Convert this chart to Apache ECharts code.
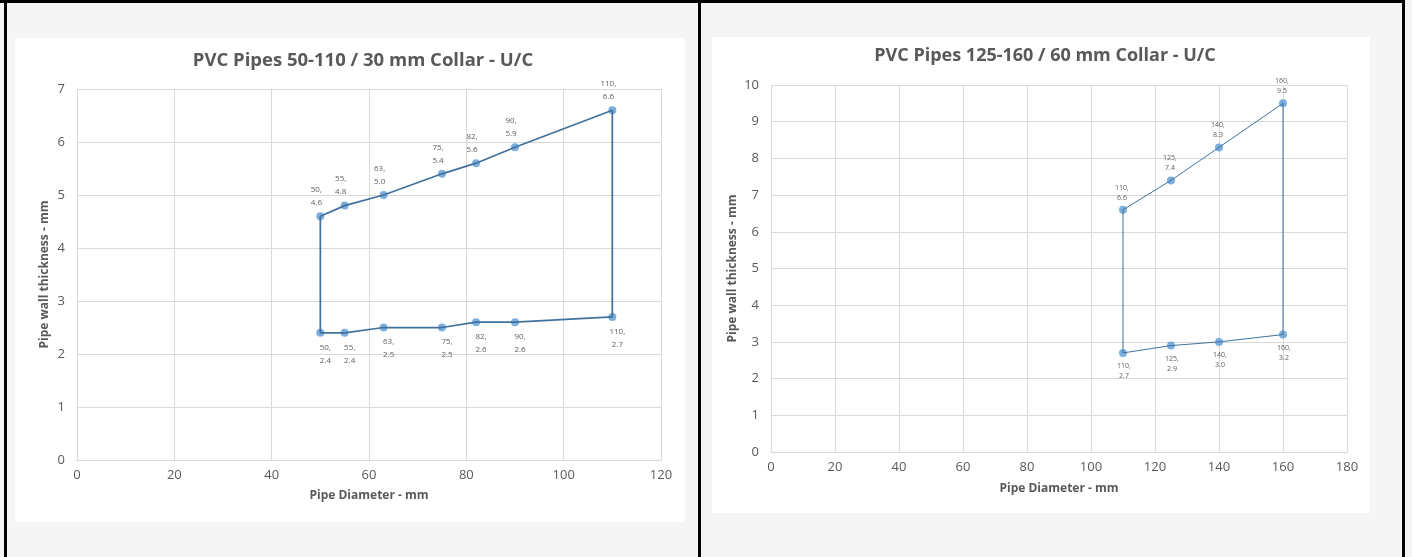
<!DOCTYPE html>
<html>
<head>
<meta charset="utf-8">
<title>PVC Pipes collar charts</title>
<script src="https://cdn.jsdelivr.net/npm/echarts@6/dist/echarts.min.js"></script>
<style>
  html, body { margin: 0; padding: 0; background: #f5f5f5; }
  #wrap { position: relative; width: 1412px; height: 557px; overflow: hidden; }
  .box { position: absolute; background: #fff; }
  .bar { position: absolute; background: #000; }
  #chart { position: absolute; left: 0; top: 0; width: 1412px; height: 557px; }
</style>
</head>
<body>
<div id="wrap">
  <div class="box" style="left:15px;top:38px;width:670px;height:484px"></div>
  <div class="box" style="left:712px;top:37px;width:658px;height:476px"></div>
  <div class="bar" style="left:0;top:0;width:1405px;height:3px"></div>
  <div class="bar" style="left:4px;top:0;width:3px;height:557px"></div>
  <div class="bar" style="left:698px;top:0;width:3px;height:557px"></div>
  <div class="bar" style="left:1402px;top:0;width:3px;height:557px"></div>
  <div id="chart"></div>
</div>
<script>
// chart 1: 50-110 / 30 mm collar
var dia1 = [50, 55, 63, 75, 82, 90, 110]
var upper1 = [4.6, 4.8, 5.0, 5.4, 5.6, 5.9, 6.6]
var lower1 = [2.4, 2.4, 2.5, 2.5, 2.6, 2.6, 2.7]
var xTicks1 = [0, 20, 40, 60, 80, 100, 120]
var yTicks1 = [0, 1, 2, 3, 4, 5, 6, 7]

// chart 2: 125-160 / 60 mm collar
var dia2 = [110, 125, 140, 160]
var upper2 = [6.6, 7.4, 8.3, 9.5]
var lower2 = [2.7, 2.9, 3.0, 3.2]
var xTicks2 = [0, 20, 40, 60, 80, 100, 120, 140, 160, 180]
var yTicks2 = [0, 1, 2, 3, 4, 5, 6, 7, 8, 9, 10]

var titles = ['PVC Pipes 50-110 / 30 mm Collar - U/C', 'PVC Pipes 125-160 / 60 mm Collar - U/C']
var xName = 'Pipe Diameter - mm'
var yName = 'Pipe wall thickness - mm'

var FONT = '"Open Sans", sans-serif'
var lineColor = '#41719C'
var dotColor = '#5B9BD5'

function pairs(xs, ys) {
  return xs.map(function (x, i) { return [x, ys[i]] })
}

// closed outline: top edge, then bottom edge back, then up again
function outline(xs, up, lo) {
  var top = pairs(xs, up)
  var bottom = pairs(xs, lo).reverse()
  return top.concat(bottom, [top[0]])
}

function fmt(p) {
  return p.value[0] + ',\n' + p.value[1].toFixed(1)
}

function xAxis(idx, ticks, gap) {
  return {
    gridIndex: idx, type: 'value',
    min: ticks[0], max: ticks[ticks.length - 1], interval: ticks[1] - ticks[0],
    name: xName, nameLocation: 'middle', nameGap: gap,
    nameTextStyle: { color: '#595959', fontSize: 12, fontWeight: 'bold', fontFamily: FONT },
    axisLine: { show: true, lineStyle: { color: '#d9d9d9' } },
    axisTick: { show: false },
    axisLabel: { color: '#595959', fontSize: 13, fontFamily: FONT, margin: 9 },
    splitLine: { show: true, lineStyle: { color: '#d9d9d9', width: 1 } }
  }
}

function yAxis(idx, ticks, gap) {
  return {
    gridIndex: idx, type: 'value',
    min: ticks[0], max: ticks[ticks.length - 1], interval: ticks[1] - ticks[0],
    name: yName, nameLocation: 'middle', nameGap: gap,
    nameTextStyle: { color: '#595959', fontSize: 12, fontWeight: 'bold', fontFamily: FONT },
    axisLine: { show: false },
    axisTick: { show: false },
    axisLabel: { color: '#595959', fontSize: 13, fontFamily: FONT, margin: 12 },
    splitLine: { show: true, lineStyle: { color: '#d9d9d9', width: 1 } }
  }
}

function seriesFor(idx, xs, up, lo, lw, fs, lh, upOff, loOff) {
  var lbl = { show: true, color: '#333333', fontSize: fs, lineHeight: lh, fontFamily: FONT, formatter: fmt }
  return [{
    type: 'line', xAxisIndex: idx, yAxisIndex: idx,
    data: outline(xs, up, lo),
    showSymbol: false, silent: true,
    lineStyle: { color: lineColor, width: lw }
  }, {
    type: 'scatter', xAxisIndex: idx, yAxisIndex: idx,
    data: pairs(xs, up), symbolSize: 8,
    itemStyle: { color: dotColor },
    label: Object.assign({ position: 'top', offset: upOff, distance: 3 }, lbl)
  }, {
    type: 'scatter', xAxisIndex: idx, yAxisIndex: idx,
    data: pairs(xs, lo), symbolSize: 8,
    itemStyle: { color: dotColor },
    label: Object.assign({ position: 'bottom', offset: loOff, distance: 4 }, lbl)
  }]
}

var myChart = echarts.init(document.getElementById('chart'))
myChart.setOption({
  animation: false,
  title: [{
    text: titles[0], left: 358, top: 46, textAlign: 'center',
    textStyle: { color: '#595959', fontSize: 18.5, fontWeight: 'bold', fontFamily: FONT }
  }, {
    text: titles[1], left: 1040, top: 42, textAlign: 'center',
    textStyle: { color: '#595959', fontSize: 18, fontWeight: 'bold', fontFamily: FONT }
  }],
  grid: [
    { left: 77, top: 89, width: 584, height: 371 },
    { left: 771, top: 85, width: 576, height: 367 }
  ],
  xAxis: [xAxis(0, xTicks1, 30), xAxis(1, xTicks2, 31)],
  yAxis: [yAxis(0, yTicks1, 26), yAxis(1, yTicks2, 32)],
  series: seriesFor(0, dia1, upper1, lower1, 1.75, 8, 13, [-4, 0], [5, 0])
    .concat(seriesFor(1, dia2, upper2, lower2, 1, 7, 10, [-1, 0], [1, 0]))
})
</script>
</body>
</html>
